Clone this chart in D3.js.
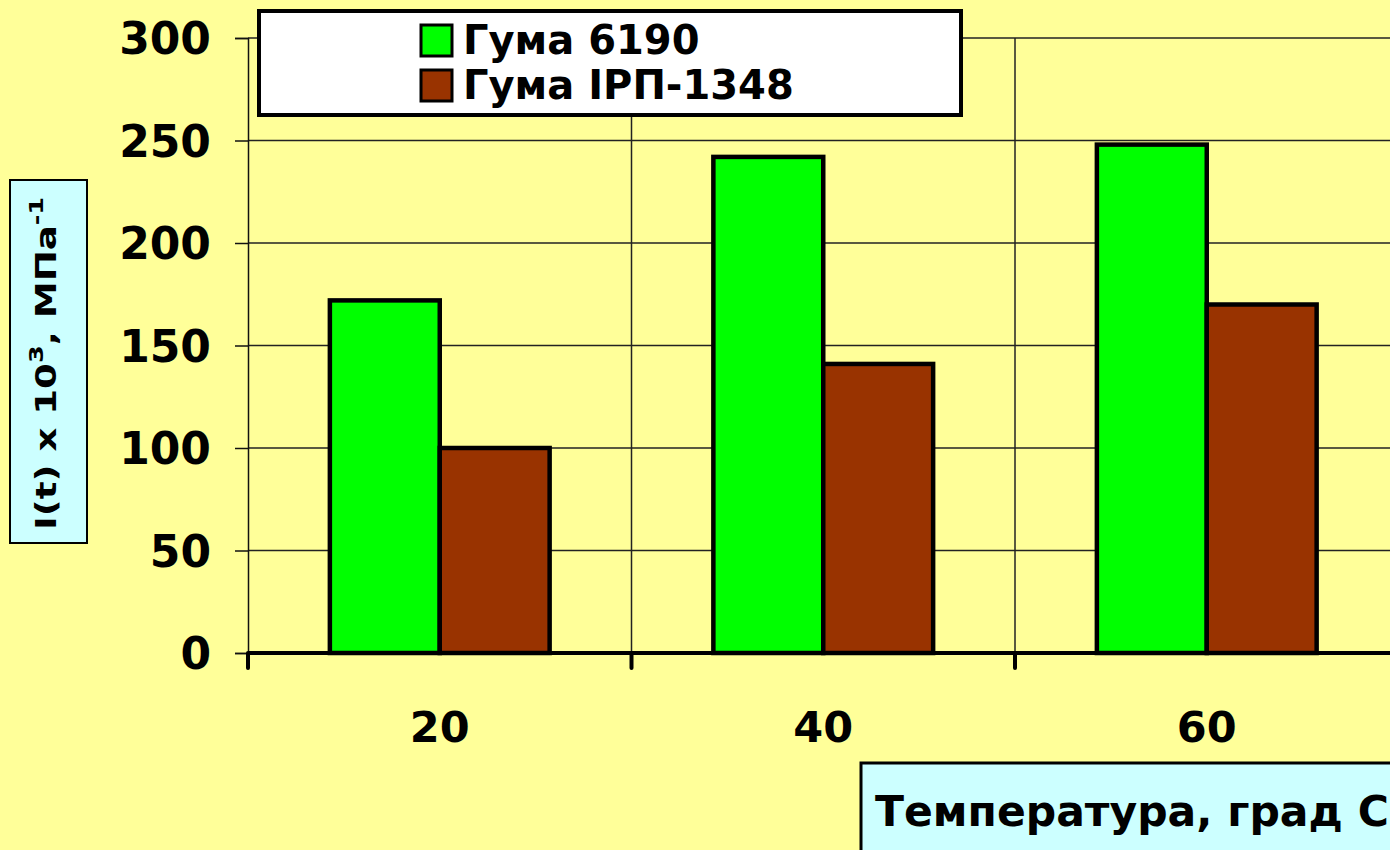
<!DOCTYPE html>
<html>
<head>
<meta charset="utf-8">
<script src="https://cdn.jsdelivr.net/npm/d3@7"></script>
<style>
  body { margin: 0; background: #ffff99; }
  svg { display: block; }
</style>
</head>
<body>
<div class="chartHolder"></div>
<script>
const categories = ['20', '40', '60']
const seriesNames = ['Гума 6190', 'Гума IРП-1348']
const guma6190 = [172, 242, 248]
const gumaIRP = [100, 141, 170]
const yTicks = [0, 50, 100, 150, 200, 250, 300]

const colors = ['#00ff00', '#993300']
const width = 1390
const height = 850
const font = "'DejaVu Sans', Verdana, sans-serif"

const svg = d3.select('.chartHolder').append('svg')
  .attr('width', width)
  .attr('height', height)

svg.append('rect')
  .attr('width', width)
  .attr('height', height)
  .attr('fill', '#ffff99')

// plot geometry
const plotLeft = 248
const plotTop = 38
const plotBottom = 653
const step = 383.5

const x0 = d3.scaleBand()
  .domain(categories)
  .range([plotLeft, plotLeft + step * categories.length])
const x1 = d3.scaleBand()
  .domain(seriesNames)
  .range([0, x0.bandwidth()])
  .paddingOuter(0.745)
const y = d3.scaleLinear()
  .domain([0, 300])
  .range([plotBottom, plotTop])

// horizontal gridlines
svg.append('g').selectAll('line')
  .data(yTicks.filter(d => d > 0))
  .enter().append('line')
  .attr('x1', plotLeft).attr('x2', width)
  .attr('y1', d => y(d)).attr('y2', d => y(d))
  .attr('stroke', '#222').attr('stroke-width', 1.5)

// vertical gridlines at category boundaries
svg.append('g').selectAll('line')
  .data(categories.slice(1))
  .enter().append('line')
  .attr('x1', d => x0(d)).attr('x2', d => x0(d))
  .attr('y1', plotTop).attr('y2', plotBottom)
  .attr('stroke', '#222').attr('stroke-width', 1.5)

// y axis
const yAxis = d3.axisLeft(y).tickValues(yTicks).tickSize(13).tickPadding(24)
const yAxisGroup = svg.append('g')
  .attr('transform', `translate(${plotLeft},0)`)
  .call(yAxis)
yAxisGroup.select('.domain').attr('stroke', '#111').attr('stroke-width', 1.5)
yAxisGroup.selectAll('.tick line').attr('stroke', '#111').attr('stroke-width', 1.5)
yAxisGroup.selectAll('text')
  .style('font-family', font)
  .style('font-weight', 'bold')
  .style('font-size', '44px')
  .attr('fill', '#000')
  .attr('dy', '0.36em')

// bars
const rows = categories.map((c, i) => ({cat: c, vals: [guma6190[i], gumaIRP[i]]}))
svg.append('g').selectAll('g')
  .data(rows)
  .enter().append('g')
  .attr('transform', d => `translate(${x0(d.cat)},0)`)
  .selectAll('rect')
  .data(d => d.vals.map((v, j) => ({name: seriesNames[j], v: v, j: j})))
  .enter().append('rect')
  .attr('x', d => x1(d.name))
  .attr('y', d => y(d.v))
  .attr('width', x1.bandwidth())
  .attr('height', d => plotBottom - y(d.v))
  .attr('fill', d => colors[d.j])
  .attr('stroke', '#000')
  .attr('stroke-width', 4.5)

// x axis
const xBounds = [plotLeft].concat(categories.slice(1).map(c => x0(c)))
const xAxisGroup = svg.append('g')
xAxisGroup.append('line')
  .attr('x1', plotLeft).attr('x2', width)
  .attr('y1', plotBottom).attr('y2', plotBottom)
  .attr('stroke', '#000').attr('stroke-width', 4)
xAxisGroup.selectAll('.tk')
  .data(xBounds)
  .enter().append('line')
  .attr('class', 'tk')
  .attr('x1', d => d).attr('x2', d => d)
  .attr('y1', plotBottom).attr('y2', plotBottom + 15)
  .attr('stroke', '#000').attr('stroke-width', 4)
  .attr('stroke-linecap', 'round')
xAxisGroup.selectAll('text')
  .data(categories)
  .enter().append('text')
  .attr('x', d => x0(d) + x0.bandwidth() / 2)
  .attr('y', 742)
  .attr('text-anchor', 'middle')
  .style('font-family', font)
  .style('font-weight', 'bold')
  .style('font-size', '43px')
  .text(d => d)

// legend
const legend = svg.append('g')
legend.append('rect')
  .attr('x', 259).attr('y', 11)
  .attr('width', 702).attr('height', 104)
  .attr('fill', '#fff')
  .attr('stroke', '#000').attr('stroke-width', 4)
seriesNames.forEach((name, i) => {
  const ly = 25 + i * 45
  legend.append('rect')
    .attr('x', 421).attr('y', ly)
    .attr('width', 31).attr('height', 31)
    .attr('fill', colors[i])
    .attr('stroke', '#000').attr('stroke-width', 3)
  legend.append('text')
    .attr('x', 463).attr('y', ly + 29)
    .style('font-family', font)
    .style('font-weight', 'bold')
    .style('font-size', '40px')
    .text(name)
})

// y axis title box
svg.append('rect')
  .attr('x', 10).attr('y', 180)
  .attr('width', 77).attr('height', 363)
  .attr('fill', '#ccffff')
  .attr('stroke', '#000').attr('stroke-width', 2)
const yTitle = svg.append('text')
  .attr('transform', 'translate(56,530) rotate(-90) scale(1.28,1)')
  .style('font-family', font)
  .style('font-weight', 'bold')
  .style('font-size', '29px')
yTitle.append('tspan').text('I(t) x 10')
yTitle.append('tspan').attr('dy', -13).style('font-size', '20px').text('3')
yTitle.append('tspan').attr('dy', 13).text(', МПа')
yTitle.append('tspan').attr('dy', -13).style('font-size', '20px').text('-1')

// x axis title box
svg.append('rect')
  .attr('x', 861).attr('y', 763)
  .attr('width', 560).attr('height', 120)
  .attr('fill', '#ccffff')
  .attr('stroke', '#000').attr('stroke-width', 3)
svg.append('text')
  .attr('x', 875).attr('y', 826)
  .style('font-family', font)
  .style('font-weight', 'bold')
  .style('font-size', '42.5px')
  .text('Температура, град С')
</script>
</body>
</html>
